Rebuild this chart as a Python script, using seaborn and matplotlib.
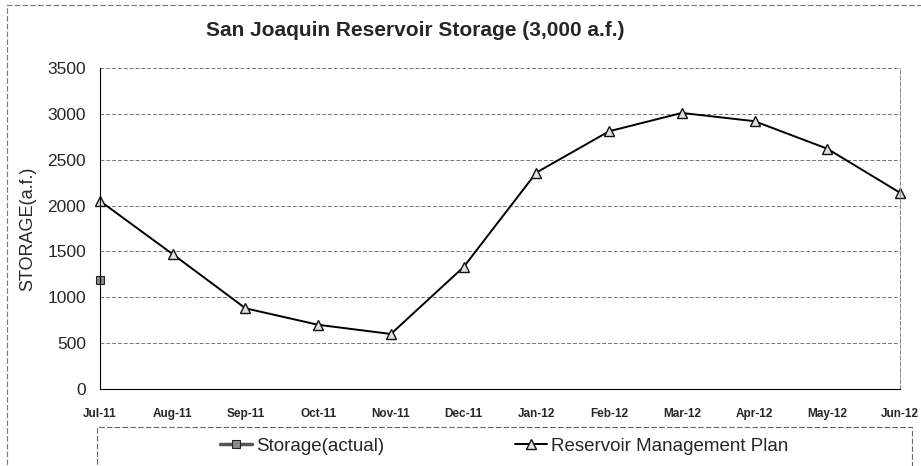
import matplotlib
matplotlib.use("Agg")
import matplotlib.pyplot as plt
import seaborn as sns
import pandas as pd
from matplotlib.patches import Rectangle

months = ["Jul-11", "Aug-11", "Sep-11", "Oct-11", "Nov-11", "Dec-11",
          "Jan-12", "Feb-12", "Mar-12", "Apr-12", "May-12", "Jun-12"]
plan = [2050, 1470, 880, 700, 600, 1330, 2360, 2810, 3010, 2920, 2620, 2140]
actual_months = ["Jul-11"]
actual = [1190]

sns.set_theme(style="white")
plt.rcParams['font.family'] = ['Liberation Sans', 'DejaVu Sans']

fig = plt.figure(figsize=(9.21, 4.66), dpi=100)
ax = fig.add_axes([100/921, 1-389/466, 800/921, 321/466])

df_plan = pd.DataFrame({"x": range(len(months)), "y": plan})
idx = [months.index(m) for m in actual_months]
df_act = pd.DataFrame({"x": idx, "y": actual})

sns.lineplot(data=df_act, x="x", y="y", ax=ax, color="#555555", marker="s",
             markersize=6, markerfacecolor="#888888", markeredgecolor="#222222",
             linewidth=2.5, label="Storage(actual)", clip_on=False)
sns.lineplot(data=df_plan, x="x", y="y", ax=ax, color="black", marker="^",
             markersize=6.5, markerfacecolor="#e0e0e0", markeredgecolor="#111111",
             markeredgewidth=1.0, linewidth=1.4, label="Reservoir Management Plan",
             clip_on=False)

ax.set_xlim(0, len(months) - 1)
ax.set_ylim(0, 3500)
ax.set_yticks(range(0, 3501, 500))
ax.set_xticks(range(len(months)))
ax.set_xticklabels(months, fontsize=8.5, fontweight="bold")
ax.tick_params(axis="y", labelsize=12.5, length=0, pad=10)
ax.tick_params(axis="x", direction="inout", length=7, width=0.8, color="black", pad=10)
ax.set_xlabel("")
ax.set_ylabel("STORAGE(a.f.)", fontsize=13, labelpad=8)
ax.grid(axis="y", color="#777777", linestyle=(0, (4, 2)), linewidth=0.7)
ax.spines["top"].set_visible(False)
ax.spines["right"].set_color("#888888")
ax.spines["right"].set_linestyle((0, (4, 2)))
ax.spines["right"].set_linewidth(0.7)
ax.spines["left"].set_color("black")
ax.spines["left"].set_linewidth(0.8)
ax.spines["bottom"].set_color("black")
ax.spines["bottom"].set_linewidth(0.8)
ax.legend_.remove()

fig.text(415/921, 1-30/466, "San Joaquin Reservoir Storage (3,000 a.f.)",
         ha="center", va="center", fontsize=15, fontweight="bold")

handles, labels = ax.get_legend_handles_labels()
leg = fig.legend(handles, labels, loc="center", ncol=2,
                 bbox_to_anchor=(504/921, 1-446/466), fontsize=13.5,
                 frameon=False, columnspacing=7.0, handlelength=1.7,
                 handletextpad=0.2)

fig.add_artist(Rectangle((97/921, -0.01), 815/921, 1-427/466 + 0.01,
                         transform=fig.transFigure, fill=False,
                         edgecolor="#666666", linewidth=0.8,
                         linestyle=(0, (5, 2))))
fig.add_artist(Rectangle((7/921, -0.01), 1.0, 1-5/466 + 0.01, transform=fig.transFigure,
                         fill=False, edgecolor="#777777", linewidth=0.8,
                         linestyle=(0, (5, 2))))

fig.savefig("out.png", dpi=100)
